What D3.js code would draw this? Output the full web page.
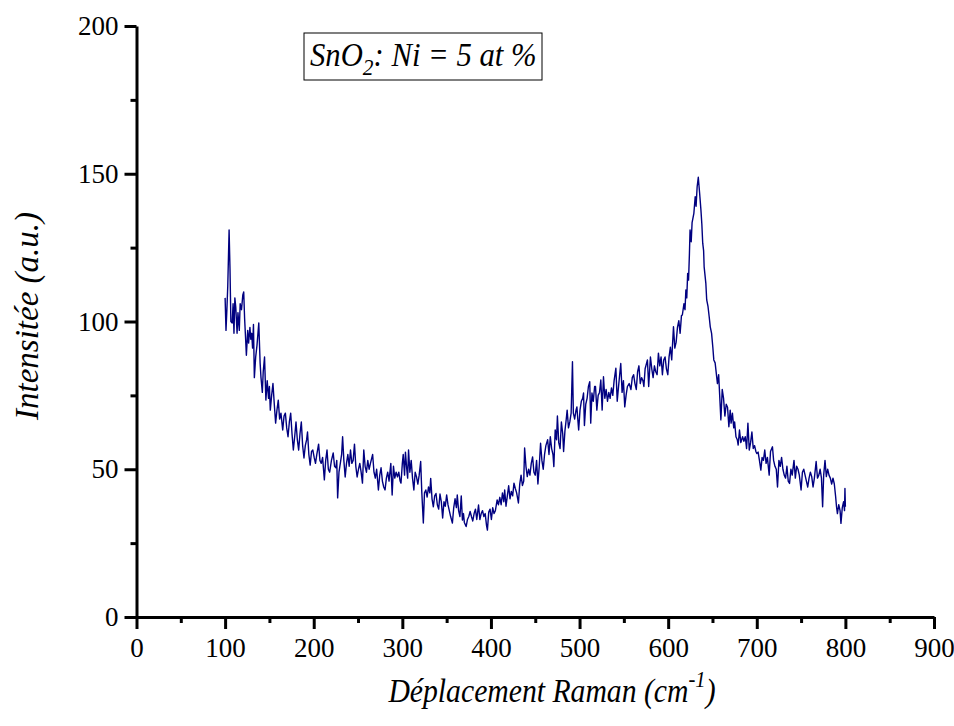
<!DOCTYPE html>
<html>
<head>
<meta charset="utf-8">
<script src="https://cdn.jsdelivr.net/npm/d3@7"></script>
<style>
  body { margin: 0; background: #fff; }
  .axis path, .axis line { stroke: #000; stroke-width: 3; }
</style>
</head>
<body>
<div id="chart"></div>
<script>
// Raman shift (cm-1) and intensity (a.u.)
var ramanShift = [100,101,102,103,104.5,105.5,106.5,108,109,110,111,112,113.5,114.5,116,117,118.5,120,121,122,123,124,125.5,126.5,128,129,130,131,132,133,134.5,136,138,139.5,140.5,142,143,144.5,146,147.5,149,150,151,152.5,154,155.5,157,158.5,160,161.5,163,165,166.5,168,169.5,171,172.5,174,175.5,177,178.5,180,181.5,183,184.5,186,187.5,189,190.5,192,193,194.5,196,197.5,199,200.5,202,203.5,205.5,207,208.5,210,212,213.5,215,216.5,218,220,222,223.5,225,226,227,228.5,230,231.5,232.6,234,235.5,237,238.5,240,241.5,243,244.5,246,247.5,249,250.5,252,253.5,255,256.5,258,259.5,261,262.5,264,266.5,268,269.5,271,273,274.5,276,277.5,279,280.5,282,283.5,285,287,288.5,290,291.5,293,294.5,296,297.5,298.5,300,301,302.5,303.5,305,306,307,308.5,310,311.5,313,314.5,316,317.5,319,320.7,322,323.7,325,326.5,328,329.5,331,332,333.5,335,336.5,338,339.5,341,342.5,344,345.5,347,348.5,350,351.5,353,354.5,356.5,358,359.5,361,362,363.5,365,366.5,367.8,369,370,372,373.5,375,376.5,378,379.5,381,382.5,384,386,387.5,389,390.5,392,393.5,395,396,397.5,399,400.5,402,403.5,405,407,408.5,410,411.5,413,414.5,415.5,417,418.5,420,421.5,423,424.5,426,427.5,429,431,432.5,434,435.5,437,438,439.5,441,442.5,444,445.5,447,448.5,450,451.5,453,454.5,456,457.5,459,460.5,462,464,465.5,467,468.5,470,471,472.5,474,475,476.5,478,479.5,481,482,483.5,485,486,487.5,489,490.5,492,493,494.5,496,497,498,499,500.5,502,503.5,504.5,505.5,507,508.5,510,511.5,512.6,514,515.5,517,518,519.5,521,522.5,524,525.5,527,528.5,530,531.5,533,534.5,536,537.5,539,541,542.5,544,546.5,548,549.5,551,552.5,554,556,558,559.5,561,562.5,564,565.5,567,568.5,570,571.5,572.6,574,576.6,578,580,581.5,583,584.5,586,587.5,589,590.5,592,593.5,595,596.5,598,599.6,601,602.5,604,606,607.5,609,610.5,612,613.5,615,616,617.8,619,620,621,622,623,624,624.7,626,627,629,630.5,631.5,632.7,634,635.5,637,638,639,640,640.6,642.5,643.5,645,646.3,647.5,649,650.4,651.5,653,655.6,657,659.5,661,662.5,664,665.5,667,668.5,670,671,672.5,674,675,676.5,678,679,680.5,682,684,685.5,687,688.5,690,691.5,693,694.5,696,697.5,699,700,701.5,703,704.6,706,707.5,709,710.5,712,714,715.5,717.7,719,720.5,722,723.4,725,726.5,728,729.5,731,732.5,734,735.5,737,738.5,740,742,743.5,745,746.5,748,750,751.5,753,754.5,756,757.5,759,760.5,762,763.5,765,767,768.5,770,771.5,773,774.3,775.5,777,778.5,780,781.5,783,784.5,786,787.5,789,790,791,792.5,794,795,796.5,798,799,799.5,800];

var intensity = [108,97,104,112,131,118,100,99.5,106,96,108,105,96,103,97,106,104,109,110,101,95,88.6,97,92.7,98,94,96,91,99,81,88,92,99.5,86,81,76,83,88,73.4,80,74,78,70,75,79,72,65.6,70,73.4,67,69,63.3,68,69,64,61,66,69,62,56.5,61,66,60,56.5,62,66,58,53.8,58,60,62.6,55,51.4,56,56.5,54,52,55,58.5,53,52,54,46.4,53,56.5,50,49,53,55.5,51,50.5,53,40.3,49,52,55,61,53,47.4,52,55,51,56.5,52,53,58.5,51,47.4,50,52,49,45.3,56.5,51,49,53,50,52,55,49,47,50,43,48,50.5,46,44,43,47,49,46,52,41.3,51,47,49,47.4,49,46,45.3,52,55,48,55.8,50,47,56.5,49,53,47,43,49,47.4,45,48,52.6,42,31.8,42,43,40.6,44,42,46.9,40,37.3,41,41.8,38,36.5,41.6,39,33.5,39,37.5,41.3,38,36,34,31.8,37,40,37,41.3,36,34,41,32.8,35,32,30.6,33,34,35.7,34,32.5,35,36.5,33,37.9,33,35,36,34,35,31,29.4,35.5,36.5,33,37,35,36,39.6,38,40.5,38,42,39,43,37.5,41,44.4,40,42.5,41,45.3,43.5,42,38.6,45,48,44.5,46,57.2,51,47.5,50,48,52,54.2,49,48,53,45,51,58.8,53,50,55,58,60,55,61,57,55,50.9,63.3,60,68,59,57,66,62,56,63,67,70,64,66,69,86.4,69,67,70,71.1,67,63.3,70,73,74,75.8,64.8,72,74,78,79.6,65.6,75.8,73,78,78,70,75,76,80.2,70,81.3,74,77,73,76,74,77.5,75,80,84.2,73,78,85.8,76,80,71.1,75,78,79,77,81,82,79,77,83,85,79,81,80,78,84,87,78,88,84,81,85,83,82,89.3,85,88,82,87,88,84,82,88,91.3,87,98.2,91,93,98,100.3,96,102,102.2,106,104,110.7,108,116.3,114,123,131,127,133.5,136.6,142.2,139,145.6,148.8,143.4,137.6,133,126.5,124,118.5,113,107.3,105,101.6,98.2,96,91.3,87,86,79,82,66.7,77,74,68,72,71,64.4,70,65.6,69,64,66,61,60,58.2,63.3,59,61,59.5,61,57,65.6,56.5,59,62.6,57,58,56,55.3,55.8,53,49.7,54,53,56.5,52,54,48,56,57.6,53,51,50,44,53,51,54,50,48,47,51,46,45.2,50,48,53,47,51,50,48,43,49,50,48,46,44,47,49,47.5,44,47,52.6,47,48,50,47,37.3,48,53,47.5,50,48,47,45,47,45,40.7,37.3,35,38,36,31.7,37,39,36,43.5,37.3];

var xMajor = [0,100,200,300,400,500,600,700,800,900];
var xMinor = [50,150,250,350,450,550,650,750,850];
var yMajor = [0,50,100,150,200];
var yMinor = [25,75,125,175];

var width = 954, height = 726;
var serif = "'Liberation Serif'";

var svg = d3.select("#chart").append("svg")
    .attr("width", width)
    .attr("height", height);

var x = d3.scaleLinear().domain([0, 900]).range([136.5, 934]);
var y = d3.scaleLinear().domain([0, 200]).range([617, 26]);

var spectrum = ramanShift.map(function(d, i) { return [d, intensity[i]]; });

// minor ticks first, under the main axes
svg.append("g")
    .attr("class", "axis")
    .attr("transform", "translate(0,617)")
    .call(d3.axisBottom(x).tickValues(xMinor).tickSize(6).tickFormat(""))
    .select(".domain").remove();
svg.append("g")
    .attr("class", "axis")
    .attr("transform", "translate(136.5,0)")
    .call(d3.axisLeft(y).tickValues(yMinor).tickSize(6).tickFormat(""))
    .select(".domain").remove();

var xAxis = svg.append("g")
    .attr("class", "axis")
    .attr("transform", "translate(0,617)")
    .call(d3.axisBottom(x).tickValues(xMajor).tickSize(12).tickSizeOuter(0).tickPadding(9));
var yAxis = svg.append("g")
    .attr("class", "axis")
    .attr("transform", "translate(136.5,0)")
    .call(d3.axisLeft(y).tickValues(yMajor).tickSize(12).tickSizeOuter(0).tickPadding(6));

[xAxis, yAxis].forEach(function(g) {
  g.selectAll("text")
      .style("font-family", serif)
      .style("font-size", "27px")
      .attr("fill", "#000");
});

var line = d3.line()
    .x(function(d) { return x(d[0]); })
    .y(function(d) { return y(d[1]); });

svg.append("path")
    .datum(spectrum)
    .attr("fill", "none")
    .attr("stroke", "#000080")
    .attr("stroke-width", 1.4)
    .attr("stroke-linejoin", "round")
    .attr("d", line);

// axis titles
svg.append("text")
    .attr("transform", "translate(38,316) rotate(-90)")
    .attr("text-anchor", "middle")
    .style("font-family", serif)
    .style("font-style", "italic")
    .style("font-size", "33px")
    .text("Intensitée (a.u.)");

var xt = svg.append("text")
    .attr("transform", "translate(552,702) scale(0.9,1)")
    .attr("text-anchor", "middle")
    .style("font-family", serif)
    .style("font-style", "italic")
    .style("font-size", "33px");
xt.append("tspan").text("Déplacement Raman (cm");
xt.append("tspan").attr("dy", -15).style("font-size", "23px").text("-1");
xt.append("tspan").attr("dy", 15).text(")");

// sample label box
svg.append("rect")
    .attr("x", 304).attr("y", 33)
    .attr("width", 238).attr("height", 47)
    .attr("fill", "none")
    .attr("stroke", "#000")
    .attr("stroke-width", 1);

var lt = svg.append("text")
    .attr("transform", "translate(310,66) scale(0.93,1)")
    .style("font-family", serif)
    .style("font-style", "italic")
    .style("font-size", "33px");
lt.append("tspan").text("SnO");
lt.append("tspan").attr("dy", 9).style("font-size", "23px").text("2");
lt.append("tspan").attr("dy", -9).text(": Ni = 5 at %");
</script>
</body>
</html>
